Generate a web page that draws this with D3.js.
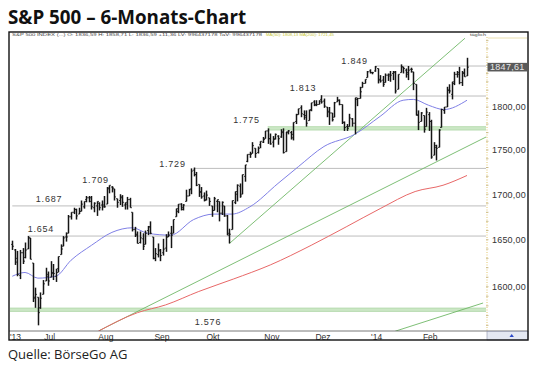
<!DOCTYPE html>
<html><head><meta charset="utf-8">
<script src="https://cdn.jsdelivr.net/npm/d3@7"></script>
<style>
html,body{margin:0;padding:0;background:#fff;}
svg{display:block;}
</style></head>
<body>
<svg id="c" width="540" height="368"></svg>
<script>
// ---------- DATA ----------
const months = ["2013-06","2013-07","2013-08","2013-09","2013-10","2013-11","2013-12","2014-01","2014-02"];
const tradingDays = [
 [10,11,12,13,14,17,18,19,20,21,24,25,26,27,28],
 [1,2,3,5,8,9,10,11,12,15,16,17,18,19,22,23,24,25,26,29,30,31],
 [1,2,5,6,7,8,9,12,13,14,15,16,19,20,21,22,23,26,27,28,29,30],
 [3,4,5,6,9,10,11,12,13,16,17,18,19,20,23,24,25,26,27,30],
 [1,2,3,4,7,8,9,10,11,14,15,16,17,18,21,22,23,24,25,28,29,30,31],
 [1,4,5,6,7,8,11,12,13,14,15,18,19,20,21,22,25,26,27,29],
 [2,3,4,5,6,9,10,11,12,13,16,17,18,19,20,23,24,26,27,30,31],
 [2,3,6,7,8,9,10,13,14,15,16,17,21,22,23,24,27,28,29,30,31],
 [3,4,5,6,7,10,11,12,13,14,18,19,20,21,24]
];
const monthLabels = ["'13","Jul","Aug","Sep","Okt","Nov","Dez","'14","Feb"];

const open = [
 1645,1639,1630,1612,1636,1631,1640,1652,1625,1589,1589,1578,1592,1606,1611,
 1610,1614,1611,1619,1634,1643,1653,1657,1675,1680,1683,1678,1681,1686,1694,1696,1696,1685,1687,1690,1688,1688,
 1689,1706,1708,1706,1695,1693,1696,1688,1691,1694,1680,1661,1655,1647,1651,1645,1660,1664,1653,1630,1634,1639,
 1636,1641,1653,1657,1657,1675,1681,1689,1685,1692,1698,1706,1727,1722,1711,1703,1698,1694,1696,1687,
 1682,1692,1692,1679,1687,1676,1657,1661,1691,1700,1709,1700,1720,1737,1745,1746,1752,1747,1756,1759,1763,1772,1763,
 1759,1763,1766,1765,1771,1748,1770,1770,1764,1783,1791,1799,1791,1790,1784,1797,1806,1803,1803,1809,
 1807,1800,1794,1793,1788,1806,1808,1803,1782,1777,1777,1786,1781,1809,1810,1823,1828,1835,1843,1841,1843,
 1846,1833,1832,1829,1838,1839,1840,1841,1821,1841,1848,1844,1841,1845,1842,1827,1791,1783,1790,1777,1791,
 1783,1744,1753,1753,1776,1796,1800,1820,1815,1828,1839,1839,1829,1841,1837
];
const high = [
 1649,1640,1638,1639,1641,1647,1654,1652,1625,1599,1589,1594,1607,1620,1616,
 1627,1624,1619,1632,1645,1654,1658,1677,1680,1685,1684,1685,1693,1692,1698,1698,1698,1691,1692,1691,1693,1698,
 1708,1710,1709,1706,1695,1700,1699,1691,1697,1696,1680,1664,1659,1659,1657,1660,1665,1670,1653,1641,1646,1640,
 1651,1656,1659,1665,1672,1684,1689,1690,1689,1705,1706,1729,1730,1725,1711,1708,1702,1704,1696,1687,
 1697,1694,1692,1692,1687,1677,1662,1693,1703,1711,1712,1722,1733,1745,1748,1759,1752,1754,1760,1765,1772,1775,1769,
 1766,1769,1767,1774,1775,1771,1773,1772,1782,1792,1798,1802,1796,1796,1797,1805,1808,1808,1808,1814,
 1810,1800,1800,1793,1806,1812,1809,1803,1783,1780,1792,1787,1811,1811,1824,1830,1833,1843,1845,1842,1849,
 1846,1838,1837,1840,1840,1843,1843,1843,1839,1851,1848,1846,1849,1847,1842,1827,1796,1794,1790,1799,1794,
 1785,1759,1756,1774,1798,1800,1824,1827,1830,1842,1843,1848,1843,1846,1859
];
const low = [
 1639,1623,1611,1608,1624,1630,1640,1629,1584,1578,1560,1577,1592,1606,1601,
 1610,1607,1605,1615,1634,1643,1648,1657,1672,1678,1672,1678,1681,1684,1691,1691,1683,1680,1676,1682,1682,1685,
 1689,1701,1702,1693,1685,1688,1686,1683,1683,1685,1659,1653,1646,1646,1639,1645,1655,1656,1629,1627,1631,1627,
 1633,1637,1653,1641,1657,1675,1679,1682,1682,1692,1698,1700,1720,1709,1697,1695,1692,1693,1687,1675,
 1682,1680,1670,1677,1675,1655,1646,1661,1689,1692,1696,1700,1714,1736,1741,1746,1741,1746,1752,1758,1763,1757,1756,
 1753,1762,1756,1764,1746,1748,1768,1762,1761,1780,1791,1788,1785,1777,1784,1795,1801,1801,1803,1804,
 1799,1788,1779,1783,1788,1806,1802,1780,1772,1772,1777,1777,1768,1801,1810,1823,1828,1835,1840,1839,1842,
 1828,1829,1824,1829,1831,1830,1832,1816,1821,1841,1840,1835,1832,1841,1820,1790,1773,1783,1770,1777,1772,
 1740,1744,1738,1753,1776,1792,1800,1816,1809,1826,1835,1827,1825,1836,1837
];
const close = [
 1643,1626,1613,1636,1627,1639,1652,1629,1588,1592,1573,1588,1603,1613,1606,
 1615,1614,1615,1632,1640,1652,1653,1675,1680,1683,1676,1681,1689,1692,1696,1692,1686,1690,1692,1685,1686,1686,
 1707,1710,1707,1697,1691,1697,1691,1689,1694,1685,1661,1656,1646,1652,1643,1657,1664,1657,1630,1635,1638,1633,
 1640,1653,1655,1655,1672,1684,1689,1683,1688,1698,1705,1726,1722,1710,1702,1697,1693,1699,1692,1682,
 1695,1694,1679,1691,1676,1655,1656,1693,1703,1710,1698,1722,1733,1745,1745,1755,1746,1752,1760,1762,1772,1763,1757,
 1762,1768,1763,1770,1747,1771,1772,1768,1782,1791,1798,1792,1788,1781,1796,1805,1802,1803,1807,1806,
 1801,1795,1793,1785,1805,1808,1803,1782,1776,1775,1787,1781,1811,1810,1818,1828,1833,1842,1841,1841,1848,
 1832,1831,1827,1838,1837,1838,1842,1819,1839,1848,1846,1839,1844,1845,1828,1790,1782,1793,1774,1794,1783,
 1742,1755,1752,1773,1797,1800,1820,1819,1830,1839,1841,1829,1840,1836,1847.61
];

// moving averages (bar index, value)
const ma50Idx = [0,5,10,17,23,31,39,47,53,62,71,79,86,93,104,112,122,134,144,153,157,163,169,178];
const ma50Val = [1611,1615,1609,1611,1628,1644,1658,1663,1657,1655,1672,1678,1678,1686,1712,1731,1754,1768,1789,1808,1809,1802,1797,1808];
const ma200Idx = [33,49,60,73,86.5,101,117,130.7,144,157.7,168.6,178];
const ma200Val = [1553,1573,1581,1595,1608,1623,1644,1664,1684,1703,1710,1721];

// support / resistance levels
const levels      = [1849,1813,1775,1729,1687,1654,1576];
const levelStart  = [142,121,100,71,0,6,-1];
const levelBand   = [false,false,true,false,false,false,true];
const levelLabels = ["1.849","1.813","1.775","1.729","1.687","1.654","1.576"];
const peakLabel   = {text:"1.709", value:1709};

// trend lines (bar index, value) pairs
const trendX1 = [85,34.3,149.9];
const trendY1 = [1646,1555,1554];
const trendX2 = [177.2,185.5,184.3];
const trendY2 = [1883,1765,1583];

const yTicks = [1600,1650,1700,1750,1800];
const lastPrice = 1847.61;

// ---------- BUILD ----------
const dates = [];
months.forEach((m,i)=>tradingDays[i].forEach(d=>dates.push(m+"-"+String(d).padStart(2,"0"))));
const bars = dates.map((d,i)=>({i, d, o:open[i], h:high[i], l:low[i], c:close[i]}));
const monthStart = [];
let off = 0;
tradingDays.forEach((t,i)=>{monthStart.push(off); off += t.length;});

const svg = d3.select("#c");
const L = 9, R = 528, T = 32, B = 340, AX = 487, XB = 331;

const x = d3.scaleLinear().domain([0, bars.length-1]).range([12.3, 467]);
const y = d3.scaleLog().domain([1600,1800]).range([286.7,107]);

// title
svg.append("text").attr("x",8).attr("y",24)
  .attr("font-family","'Open Sans', sans-serif").attr("font-weight","bold")
  .attr("font-size",18.8).attr("fill","#111").text("S\u0026P 500 \u2013 6-Monats-Chart");

// source
svg.append("text").attr("x",8).attr("y",359)
  .attr("font-family","'Open Sans', sans-serif").attr("font-size",13)
  .attr("fill","#222").text("Quelle: BörseGo AG");

// clip
svg.append("defs").append("clipPath").attr("id","plot")
  .append("rect").attr("x",L+1).attr("y",T+2).attr("width",AX-L-1).attr("height",XB-T-2);

const g = svg.append("g").attr("clip-path","url(#plot)");

// level lines
levels.forEach((v,k)=>{
  const yy = y(v), x0 = x(levelStart[k]);
  if (levelBand[k]) {
    g.append("rect").attr("x",x0).attr("y",yy-1.8).attr("width",AX-1-x0).attr("height",3.6)
      .attr("fill","#cbe7c5");
    g.append("line").attr("x1",x0).attr("x2",AX-1).attr("y1",yy-1.7).attr("y2",yy-1.7)
      .attr("stroke","#add5a5").attr("stroke-width",0.7);
    g.append("line").attr("x1",x0).attr("x2",AX-1).attr("y1",yy+1.7).attr("y2",yy+1.7)
      .attr("stroke","#add5a5").attr("stroke-width",0.7);
  } else {
    g.append("line").attr("x1",x0).attr("x2",AX-1).attr("y1",yy).attr("y2",yy)
      .attr("stroke","#bdbdbd").attr("stroke-width",1);
  }
});

// trend lines
trendX1.forEach((_,k)=>{
  g.append("line").attr("x1",x(trendX1[k])).attr("y1",y(trendY1[k]))
    .attr("x2",x(trendX2[k])).attr("y2",y(trendY2[k]))
    .attr("stroke","#6fb866").attr("stroke-width",0.9);
});

// moving averages
const line = d3.line().x(d=>x(d[0])).y(d=>y(d[1])).curve(d3.curveMonotoneX);
g.append("path").datum(ma200Idx.map((v,i)=>[v,ma200Val[i]])).attr("d",line)
  .attr("fill","none").attr("stroke","#e86868").attr("stroke-width",1);
g.append("path").datum(ma50Idx.map((v,i)=>[v,ma50Val[i]])).attr("d",line)
  .attr("fill","none").attr("stroke","#7f80e6").attr("stroke-width",1);

// OHLC bars
const bg = g.append("g").attr("stroke","#151515");
bars.forEach(b=>{
  const xx = Math.round(x(b.i))+0.5;
  bg.append("line").attr("x1",xx).attr("x2",xx).attr("y1",y(b.h)).attr("y2",y(b.l)).attr("stroke-width",1.5);
  bg.append("line").attr("x1",xx-1.3).attr("x2",xx).attr("y1",y(b.o)).attr("y2",y(b.o)).attr("stroke-width",1);
  bg.append("line").attr("x1",xx).attr("x2",xx+1.3).attr("y1",y(b.c)).attr("y2",y(b.c)).attr("stroke-width",1);
});

// level labels
const labelIdx = [134,113.8,91.7,62.7,14.4,11.2,76.6];
const labelDy  = [-5.3,-8.3,-8.3,-4.1,-7.6,-7.1,12];
const lblFont = "'Liberation Sans', Arial, sans-serif";
levels.forEach((v,k)=>{
  svg.append("text").attr("x",x(labelIdx[k])).attr("y",y(v)+labelDy[k]+3.2)
    .attr("text-anchor","middle").attr("font-family",lblFont).attr("font-size",9)
    .attr("letter-spacing",0.8).attr("fill","#333").text(levelLabels[k]);
});
svg.append("text").attr("x",x(32.6)).attr("y",y(peakLabel.value)-6+3.2)
  .attr("text-anchor","middle").attr("font-family",lblFont).attr("font-size",9)
  .attr("letter-spacing",0.8).attr("fill","#333").text(peakLabel.text);

// y axis region
svg.append("line").attr("x1",AX).attr("x2",AX).attr("y1",T+5).attr("y2",XB)
  .attr("stroke","#e2c66a").attr("stroke-width",1).attr("stroke-dasharray","1,1.5");
svg.append("line").attr("x1",AX+1).attr("x2",R-1).attr("y1",T+6).attr("y2",T+6)
  .attr("stroke","#eadfae").attr("stroke-width",1);
// minor ticks
d3.range(1560,1890,10).forEach(v=>{
  svg.append("line").attr("x1",AX-1).attr("x2",AX+1.5).attr("y1",y(v)).attr("y2",y(v))
    .attr("stroke","#b9a870").attr("stroke-width",0.7);
});

const yAxis = d3.axisRight(y).tickValues(yTicks).tickSize(0).tickPadding(0)
  .tickFormat(d=>d3.format(".2f")(d).replace(".",","));
const ya = svg.append("g").attr("transform",`translate(${AX+5},0)`).call(yAxis);
ya.select(".domain").remove();
ya.selectAll("text").attr("font-family",lblFont).attr("font-size",9)
  .attr("letter-spacing",0.2).attr("fill","#333");

// last price box
const py = y(lastPrice);
svg.append("rect").attr("x",AX+0.5).attr("y",py-4.3).attr("width",R-AX-1.5).attr("height",8.6)
  .attr("fill","#5a5a5a");
svg.append("text").attr("x",AX+3).attr("y",py+3.2).attr("font-family",lblFont)
  .attr("font-size",9).attr("letter-spacing",0.3).attr("fill","#e8e8e8")
  .text(d3.format(".2f")(lastPrice).replace(".",","));

// x axis band
svg.append("line").attr("x1",L).attr("x2",R).attr("y1",XB).attr("y2",XB)
  .attr("stroke","#555").attr("stroke-width",0.8);
svg.append("rect").attr("x",AX).attr("y",XB+0.5).attr("width",R-AX).attr("height",B-XB-0.5)
  .attr("fill","#e4e8f2").attr("stroke","#8a8fa8").attr("stroke-width",0.6);
svg.append("path").attr("d",`M${509.5},${337} l2.2,-3 l2.2,3 z`).attr("fill","#2b48c8");

const xAxis = d3.axisBottom(x).tickValues(monthStart.slice(1)).tickSize(0).tickPadding(0)
  .tickFormat((d,i)=>monthLabels[i+1]);
const xa = svg.append("g").attr("transform",`translate(-1.5,${XB})`).call(xAxis);
xa.select(".domain").remove();
xa.selectAll("text").attr("font-family",lblFont).attr("font-size",8.5).attr("fill","#333")
  .attr("dy",null).attr("y",8.6);
svg.append("text").attr("x",L+1).attr("y",XB+8.6).attr("font-family",lblFont)
  .attr("font-size",8.5).attr("fill","#333").text(monthLabels[0]);

// header info line
svg.append("text").attr("x",12).attr("y",36).attr("font-family",lblFont).attr("font-size",4.2)
  .attr("fill","#444").attr("textLength",250).attr("lengthAdjust","spacingAndGlyphs")
  .text("S&P 500 INDEX (...)  O: 1836,59  H: 1858,71  L: 1836,59  +11,36  LV: 996437178  TaV: 996437178");
svg.append("text").attr("x",266).attr("y",36).attr("font-family",lblFont).attr("font-size",4.2)
  .attr("fill","#c8c83a").attr("textLength",68).attr("lengthAdjust","spacingAndGlyphs")
  .text("MA(50): 1808,13  MA(200): 1721,45");
svg.append("text").attr("x",470).attr("y",36).attr("font-family",lblFont).attr("font-size",4.2)
  .attr("fill","#444").attr("textLength",16).attr("lengthAdjust","spacingAndGlyphs").text("täglich");

// frame
svg.append("rect").attr("x",L).attr("y",T).attr("width",R-L).attr("height",B-T)
  .attr("fill","none").attr("stroke","#111").attr("stroke-width",1.4);
</script>
</body></html>
